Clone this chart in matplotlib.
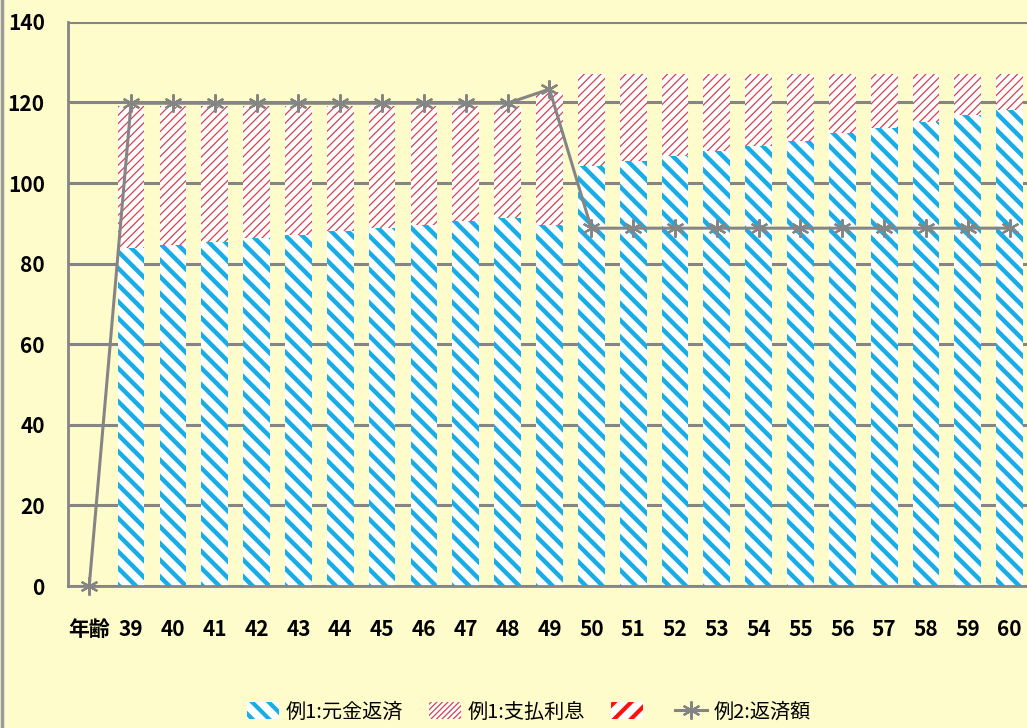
import matplotlib
matplotlib.use("Agg")
import numpy as np
import matplotlib.pyplot as plt
from matplotlib.patches import Patch
from matplotlib.lines import Line2D

plt.rcParams['font.family'] = ['Liberation Sans Narrow', 'Noto Sans CJK JP', 'DejaVu Sans']

# --- data ---
ages = ["年齢", "39", "40", "41", "42", "43", "44", "45", "46", "47", "48", "49",
        "50", "51", "52", "53", "54", "55", "56", "57", "58", "59", "60"]
principal = [np.nan, 83.9, 84.6, 85.4, 86.4, 87.1, 88.1, 88.8, 89.6, 90.6, 91.4, 89.7,
             104.2, 105.5, 106.7, 108.0, 109.2, 110.4, 112.3, 113.6, 115.1, 116.9, 118.1]
total = [np.nan, 119.1, 119.1, 119.1, 119.1, 119.1, 119.1, 119.1, 119.1, 119.1, 119.1, 122.6,
         127.0, 127.0, 127.0, 127.0, 127.0, 127.0, 127.0, 127.0, 127.0, 127.0, 127.0]
interest = [t - p for t, p in zip(total, principal)]
repay2 = [0, 119.8, 119.8, 119.8, 119.8, 119.8, 119.8, 119.8, 119.8, 119.8, 119.8, 123.3,
          88.8, 88.8, 88.8, 88.8, 88.8, 88.8, 88.8, 88.8, 88.8, 88.8, 88.8]
yticks = [0, 20, 40, 60, 80, 100, 120, 140]

bg = '#FEFCCB'
blue = '#18ADE6'
red = '#D8404E'
gray = '#858585'

fig = plt.figure(figsize=(10.27, 7.28), dpi=100, facecolor=bg)
ax = fig.add_axes([0.0665, 0.195, 0.937, 0.775], facecolor=bg)

x = np.arange(len(ages))


def set_hlw(artist, hlw):
    if hasattr(artist, 'set_hatch_linewidth'):
        artist.set_hatch_linewidth(hlw)
    elif hasattr(artist, '_hatch_linewidth'):
        artist._hatch_linewidth = hlw


def hatched_bars(vals, bottom, color, hatch, hlw):
    with plt.rc_context({'hatch.linewidth': hlw}):
        bars = ax.bar(x, vals, bottom=bottom, width=0.64, color='white',
                      edgecolor=color, hatch=hatch, linewidth=0, zorder=2)
    for b in bars:
        set_hlw(b, hlw)
    return bars


hatched_bars(principal, 0, blue, '\\\\', 3.2)
hatched_bars(interest, principal, red, '////', 0.9)

ax.plot(x, repay2, color=gray, lw=2.2, marker=(6, 2, 0), ms=13, mew=1.6,
        zorder=4, clip_on=False)

ax.set_xlim(-0.5, len(ages) - 0.5)
ax.set_ylim(0, 140)
ax.set_yticks(yticks)
ax.set_xticks(x)
ax.set_xticklabels(ages)
ax.yaxis.grid(True, color=gray, lw=2.2, zorder=0)
ax.set_axisbelow(True)
ax.tick_params(length=0)
ax.tick_params(axis='y', pad=17)
ax.tick_params(axis='x', pad=24)
for lab in ax.get_xticklabels() + ax.get_yticklabels():
    lab.set_fontsize(15)
    lab.set_fontweight('bold')

for s in ['top', 'right']:
    ax.spines[s].set_visible(False)
for s in ['left', 'bottom']:
    ax.spines[s].set_color(gray)
    ax.spines[s].set_linewidth(2)

# figure border at the left edge
fig.add_artist(Line2D([0.002, 0.002], [0, 1], color='#9A9A9A', lw=2.5,
                      transform=fig.transFigure))

# legend
h1 = Patch(facecolor='white', edgecolor=blue, hatch='\\\\', lw=0)
h2 = Patch(facecolor='white', edgecolor=red, hatch='//////', lw=0)
h3 = Patch(facecolor='white', edgecolor='#FF1010', hatch='//', lw=0)
h4 = Line2D([], [], color=gray, lw=2.2, marker=(6, 2, 0), ms=13, mew=1.6)

with plt.rc_context({'hatch.linewidth': 3.0}):
    leg = fig.legend([h1, h2, h3, h4], ["例1:元金返済", "例1:支払利息", "", "例2:返済額"],
                     loc='center', bbox_to_anchor=(0.515, 0.022), ncol=4, frameon=False,
                     prop={'family': ['Noto Sans CJK JP', 'DejaVu Sans'], 'size': 14.5},
                     handlelength=1.6, handleheight=0.9, handletextpad=0.3,
                     columnspacing=1.3)
patches = leg.get_patches()
for p, w in zip(patches, [3.0, 0.9, 3.0]):
    set_hlw(p, w)

fig.savefig('out.png', dpi=100, facecolor=bg)
